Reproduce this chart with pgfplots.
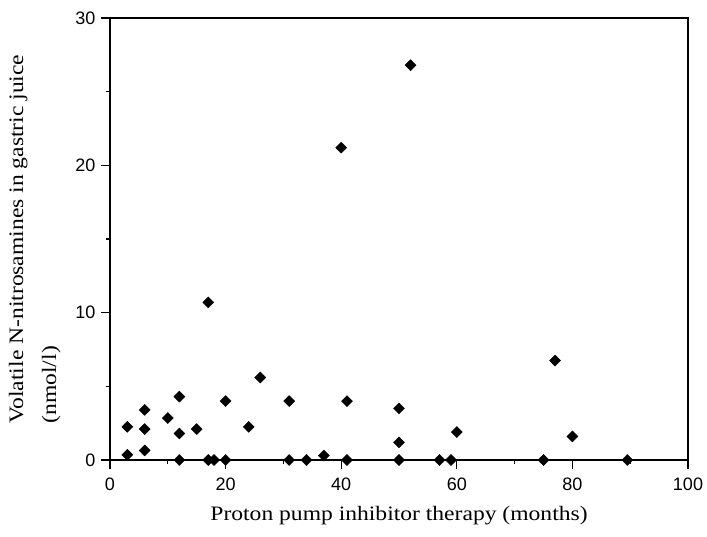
\documentclass[border=0pt]{standalone}
\usepackage{pgfplots}
\pgfplotsset{compat=1.18}
\usepackage{fontspec}
\setmainfont{Liberation Serif}[FakeStretch=1.15]
\newfontfamily\tickfont{Liberation Sans}
\begin{document}
\begin{tikzpicture}
\begin{axis}[
  scale only axis,
  width=578pt, height=442pt,
  xmin=0, xmax=100, ymin=0, ymax=30,
  xtick={0,20,...,100}, ytick={0,10,20,30},
  minor xtick={10,30,50,70,90},
  minor ytick={5,15,25},
  tick pos=left,
  tick align=outside,
  major tick length=9pt,
  minor tick length=4pt,
  every tick/.style={black, line width=1.2pt},
  axis line style={line width=1.4pt},
  /pgf/number format/assume math mode=true,
  tick label style={font=\tickfont\fontsize{18}{20}\selectfont},
  xticklabel style={yshift=-5pt},
  yticklabel style={xshift=-2pt},
  label style={font=\fontsize{20.5}{33}\selectfont},
  xlabel={Proton pump inhibitor therapy (months)},
  xlabel style={yshift=-9pt},
  ylabel={Volatile N-nitrosamines in gastric juice\\(nmol/l)},
  ylabel style={align=left, yshift=8pt},
]
\addplot[only marks, mark=square*, mark size=3.9pt, mark options={rotate=45, fill=black, draw=black}] coordinates {
(3,2.25) (3,0.35) (6,3.4) (6,2.1) (6,0.65) (10,2.85) (12,4.3) (12,1.8) (12,0)
(15,2.1) (17,10.7) (17,0) (18,0) (20,4.0) (20,0) (24,2.25) (26,5.6)
(31,4.0) (31,0) (34,0) (37,0.3) (40,21.2) (41,4.0) (41,0)
(50,3.5) (50,1.2) (50,0) (52,26.8) (57,0) (59,0) (60,1.9)
(75,0) (77,6.75) (80,1.6) (89.5,0)
};
\end{axis}
\pgfresetboundingbox
\path (-110pt,-76pt) rectangle (597pt,460pt);
\end{tikzpicture}
\end{document}
